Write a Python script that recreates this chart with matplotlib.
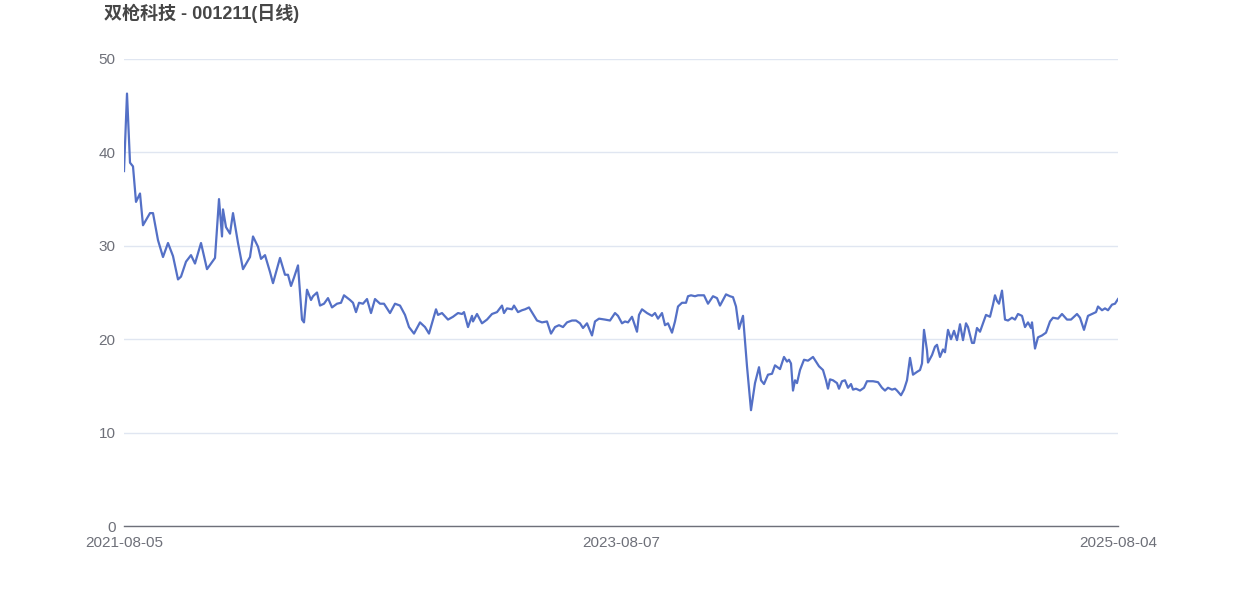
import matplotlib
matplotlib.use("Agg")
import matplotlib.pyplot as plt

plt.rcParams['font.family'] = ['Liberation Sans', 'Noto Sans CJK SC', 'DejaVu Sans']

title = "双枪科技 - 001211(日线)"
tick_dates = ["2021-08-05", "2023-08-07", "2025-08-04"]
n_sessions = 994

# trading-session index and close price
session = [
    0, 3, 6, 9, 12, 16, 19, 26, 29, 34, 39, 44, 49, 54, 57, 62, 67, 71, 77, 83,
    91, 95, 98, 99, 102, 106, 109, 114, 119, 126, 129, 134, 137, 141, 146, 149, 156, 161,
    164, 167, 170, 174, 178, 180, 183, 187, 189, 193, 196, 200, 204, 208, 213, 217,
    220, 226, 229, 232, 235, 239, 243, 247, 251, 256, 260, 266, 271, 276, 281, 285,
    290, 296, 301, 305, 312, 314, 318, 324, 329,
    334, 338, 340, 344, 348, 349, 353, 358, 363, 368, 373, 378, 380, 383, 388, 390,
    394, 398, 401, 405, 409, 413, 418, 423, 427, 431, 435, 439, 443, 448, 452, 456,
    459, 463, 468, 471, 475, 481, 486, 491, 494,
    498, 501, 504, 508, 513, 515, 518, 523, 528, 531, 534, 538, 541, 544, 548, 551,
    554, 558, 562, 564, 567, 571, 574, 580, 584, 589, 593, 596, 598, 602, 606, 609,
    612, 615, 619, 623, 627, 631, 635, 637, 640, 644, 648, 651, 656,
    660, 663, 665, 667, 669, 671, 673, 676, 680, 684, 689, 692, 695, 699, 702, 704,
    706, 709, 713, 715, 718, 721, 724, 727, 729, 732, 736, 740, 743, 749, 754, 758,
    761, 764, 768, 771, 773, 777, 780, 783, 786, 789, 793, 796, 798, 800, 803, 804,
    808, 811, 813, 816, 819, 821,
    824, 827, 830, 833, 836, 839, 842, 844, 848, 850, 853, 856, 859, 862, 866, 869,
    871, 873, 875, 878, 881, 884, 888, 891, 894, 898, 901, 904, 907, 908, 911, 914,
    918, 922, 926, 929, 934, 938, 943, 947, 953, 956, 960, 964, 968, 972, 974, 978,
    981, 984, 988, 991, 994,
]
close = [
    38.0, 46.3, 38.9, 38.5, 34.7, 35.6, 32.2, 33.5, 33.5, 30.6, 28.8, 30.3, 28.9, 26.4, 26.7, 28.3, 29.0, 28.1, 30.3, 27.5,
    28.7, 35.0, 31.0, 33.9, 32.0, 31.3, 33.5, 30.3, 27.5, 28.8, 31.0, 29.9, 28.6, 29.0, 27.2, 26.0, 28.7, 26.9,
    26.9, 25.7, 26.6, 27.9, 22.1, 21.8, 25.3, 24.2, 24.6, 25.0, 23.6, 23.8, 24.4, 23.4, 23.8, 23.9,
    24.7, 24.2, 23.9, 22.9, 23.9, 23.8, 24.3, 22.8, 24.3, 23.8, 23.8, 22.8, 23.8, 23.6, 22.6, 21.3,
    20.6, 21.8, 21.3, 20.6, 23.2, 22.6, 22.8, 22.1, 22.4,
    22.8, 22.7, 22.9, 21.3, 22.5, 21.9, 22.7, 21.7, 22.1, 22.7, 22.9, 23.6, 22.8, 23.3, 23.2, 23.6,
    22.9, 23.1, 23.2, 23.4, 22.7, 22.0, 21.8, 21.9, 20.6, 21.3, 21.5, 21.3, 21.8, 22.0, 22.0, 21.7,
    21.2, 21.7, 20.4, 21.9, 22.2, 22.1, 22.0, 22.8, 22.5,
    21.7, 21.9, 21.8, 22.4, 20.8, 22.6, 23.2, 22.8, 22.5, 22.8, 22.2, 22.8, 21.5, 21.7, 20.7, 21.9,
    23.5, 23.9, 23.9, 24.6, 24.7, 24.6, 24.7, 24.7, 23.8, 24.6, 24.4, 23.6, 24.0, 24.8, 24.6, 24.5,
    23.5, 21.1, 22.5, 17.1, 12.4, 15.3, 17.0, 15.6, 15.2, 16.2, 16.3, 17.2, 16.8,
    18.1, 17.6, 17.8, 17.4, 14.5, 15.6, 15.3, 16.7, 17.8, 17.7, 18.1, 17.6, 17.1, 16.7, 15.6, 14.7,
    15.7, 15.6, 15.3, 14.7, 15.5, 15.6, 14.8, 15.2, 14.6, 14.7, 14.5, 14.8, 15.5, 15.5, 15.4, 14.8,
    14.5, 14.8, 14.6, 14.7, 14.5, 14.0, 14.6, 15.6, 18.0, 16.2, 16.5, 16.7, 17.4, 21.0, 18.8, 17.5,
    18.3, 19.2, 19.4, 18.1, 18.9, 18.6,
    21.0, 20.0, 20.9, 19.9, 21.6, 19.9, 21.7, 21.3, 19.6, 19.6, 21.2, 20.8, 21.7, 22.6, 22.4, 23.7,
    24.7, 24.1, 23.8, 25.2, 22.1, 22.0, 22.3, 22.1, 22.7, 22.5, 21.3, 21.8, 21.2, 21.8, 19.0, 20.2,
    20.4, 20.7, 21.9, 22.3, 22.2, 22.7, 22.1, 22.1, 22.7, 22.3, 21.0, 22.5, 22.7, 22.9, 23.5, 23.1,
    23.3, 23.1, 23.7, 23.8, 24.3,
]

fig = plt.figure(figsize=(12.42, 5.96), dpi=100)
ax = fig.add_axes([124 / 1242, 70 / 596, 994 / 1242, 467 / 596])

ax.plot(session, close, color="#5470c6", linewidth=1.6, solid_joinstyle="round")

ax.set_xlim(0, n_sessions)
ax.set_ylim(0, 50)
ax.set_yticks([0, 10, 20, 30, 40, 50])
ax.set_xticks([0, n_sessions / 2, n_sessions])
ax.set_xticklabels(tick_dates)

ax.grid(axis="y", color="#e0e6f1", linewidth=1)
ax.set_axisbelow(True)
for side in ["top", "right", "left"]:
    ax.spines[side].set_visible(False)
ax.spines["bottom"].set_color("#6e7079")
ax.spines["bottom"].set_linewidth(1)

ax.tick_params(axis="y", length=0, pad=6, labelsize=11, labelcolor="#6e7079")
ax.tick_params(axis="x", length=0, pad=7, labelsize=11, labelcolor="#6e7079")

fig.text(104 / 1242, 1 - 13 / 596, title, fontsize=13, fontweight="bold",
         color="#464646", ha="left", va="center")

fig.savefig("out.png", dpi=100)
